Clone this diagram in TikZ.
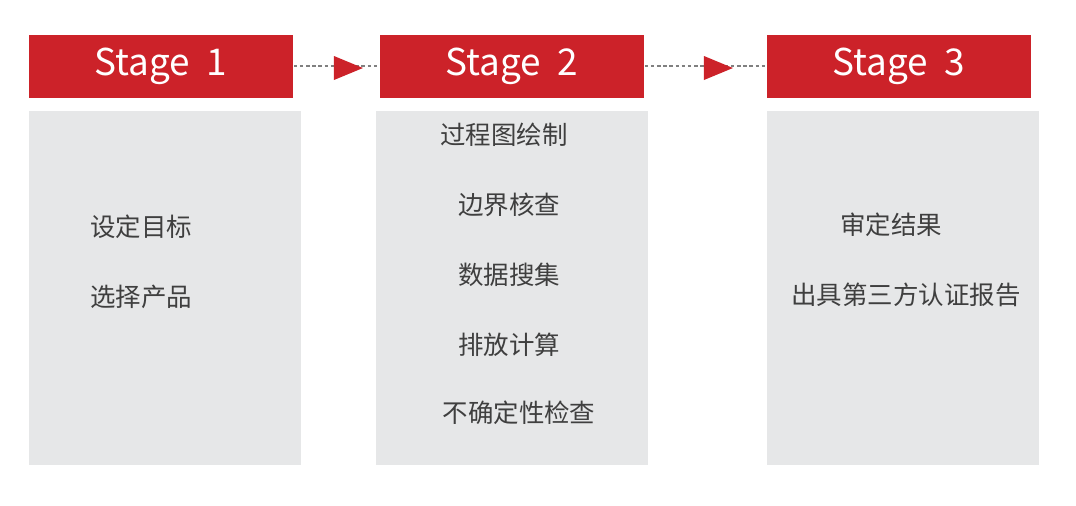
\documentclass[tikz,border=0pt]{standalone}
\usepackage{fontspec}
\setmainfont{Noto Sans CJK SC}
\usepackage{tikz}
\usetikzlibrary{positioning,shapes.geometric}
\definecolor{stagered}{HTML}{CC2229}
\definecolor{panelgray}{HTML}{E6E7E8}
\definecolor{textgray}{HTML}{3F3F3F}
\tikzset{
  stage/.style={fill=stagered, text=white, minimum width=5.3cm, minimum height=1.26cm, inner sep=0, font=\fontsize{21}{24}\selectfont},
  panel/.style={fill=panelgray, minimum width=5.46cm, minimum height=7.1cm, inner sep=0},
  item/.style={text=textgray, font=\fontsize{14.5}{17}\selectfont, inner sep=0},
  link/.style={draw=gray, densely dashed, dash pattern=on 2pt off 1.5pt, line width=0.6pt},
  tip/.style={isosceles triangle, fill=stagered, minimum width=0.48cm, minimum height=0.5cm, inner sep=0}
}
\begin{document}
\begin{tikzpicture}[x=0.02cm,y=-0.02cm]
        \useasboundingbox (0,0) rectangle (1076,505);
        \node[stage] (stageone) at (161,66) {Stage\ \ 1};
        \node[stage] (stagetwo) at (512,66) {Stage\ \ 2};
        \node[stage] (stagethree) at (899,66) {Stage\ \ 3};

        \node[panel] (panelone) at (165,288) {};
        \node[panel] (paneltwo) at (512,288) {};
        \node[panel] (panelthree) at (903,288) {};

        \node[item, anchor=west] (goal) at (90,227) {设定目标};
        \node[item, anchor=west] (product) at (90,297) {选择产品};

        \node[item] (map) at (504,135) {过程图绘制};
        \node[item] (bound) at (509,205) {边界核查};
        \node[item] (data) at (509,275) {数据搜集};
        \node[item] (calc) at (509,345) {排放计算};
        \node[item] (uncert) at (519,413) {不确定性检查};

        \node[item] (review) at (891,225) {审定结果};
        \node[item] (report) at (906,295) {出具第三方认证报告};

        \path[link] (stageone) -- (stagetwo);
        \path[link] (stagetwo) -- (stagethree);
        \node[tip] (tipone) at (342,68) {};
        \node[tip] (tiptwo) at (712,68) {};
\end{tikzpicture}
\end{document}
